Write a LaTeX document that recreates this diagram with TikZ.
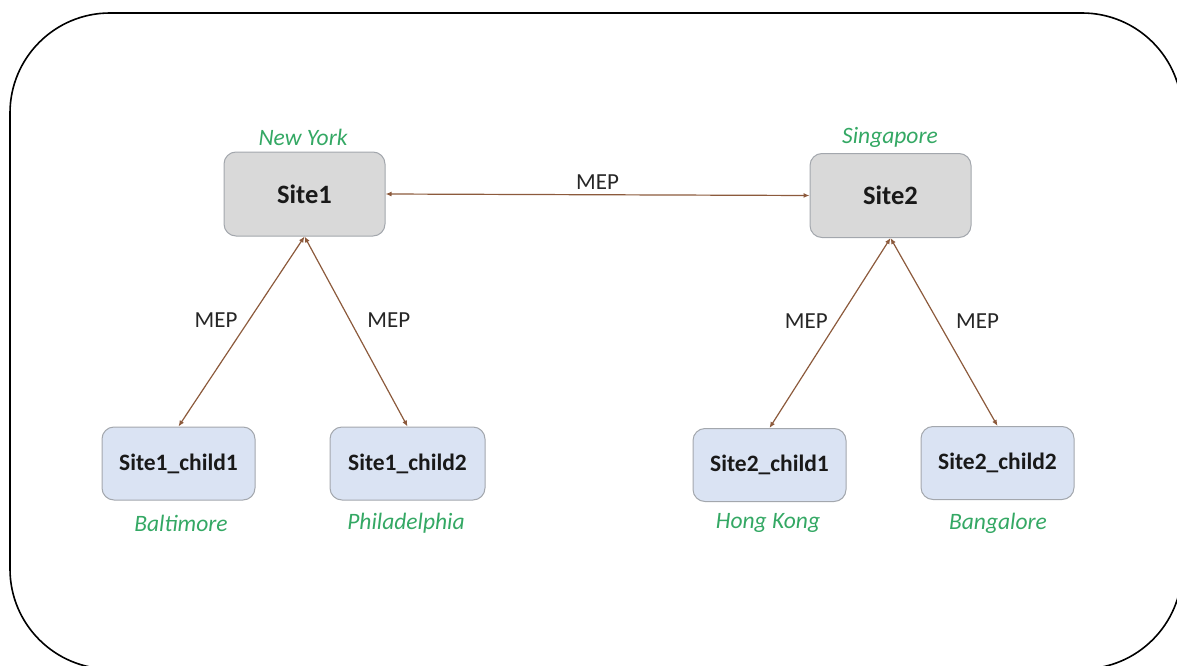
\documentclass[tikz,border=0pt]{standalone}
\usepackage{fontspec}
\setmainfont{Carlito}
\usetikzlibrary{arrows.meta}
\definecolor{siteg}{HTML}{D9D9D9}
\definecolor{childb}{HTML}{DAE3F3}
\definecolor{boxline}{HTML}{A3A7AD}
\definecolor{placeg}{RGB}{52,168,100}
\definecolor{linkb}{RGB}{140,90,60}
\tikzset{
  x=1pt, y=-1pt,
  sitebox/.style={rectangle, rounded corners=12pt, fill=siteg, draw=boxline, line width=1pt,
    minimum width=161pt, minimum height=84pt, inner sep=0pt, font=\fontsize{26.5}{30}\selectfont\bfseries, text=black!90},
  childbox/.style={sitebox, fill=childb, minimum width=153pt, minimum height=73pt, font=\fontsize{23.5}{28}\selectfont\bfseries},
  place/.style={font=\fontsize{23.5}{28}\selectfont\itshape, text=placeg, inner sep=0pt},
  meplbl/.style={font=\fontsize{23}{27}\selectfont, text=black!85, inner sep=0pt},
  link/.style={draw=linkb, line width=1.2pt, {Latex[length=6pt,width=5pt]}-{Latex[length=6pt,width=5pt]}},
}
\begin{document}
\begin{tikzpicture}
\useasboundingbox (0,0) rectangle (1177,666);
\begin{scope}
\clip (0,0) rectangle (1177,666);
\draw[line width=1.6pt, rounded corners=100pt] (10,13) rectangle (1182,669);
\end{scope}

\node[sitebox] (s1) at (304.5,194) {Site1};
\node[sitebox] (s2) at (890.5,195.5) {Site2};
\node[childbox] (c11) at (178.5,463.5) {Site1\_child1};
\node[childbox, minimum width=155pt] (c12) at (407.5,463.5) {Site1\_child2};
\node[childbox] (c21) at (769.5,465) {Site2\_child1};
\node[childbox] (c22) at (997.5,463) {Site2\_child2};

\node[place] (ny) at (303,137) {New York};
\node[place] (sg) at (890,137) {Singapore};
\node[place] (bt) at (181,523) {Baltimore};
\node[place] (ph) at (406,523) {Philadelphia};
\node[place] (hk) at (768,523) {Hong Kong};
\node[place] (bg) at (998,523) {Bangalore};

\draw[link] (s1.east) -- node[meplbl, above=5pt] (m0) {MEP} (s2.west);
\draw[link] (s1.south) -- node[meplbl, pos=0.44, left=11pt] (m1) {MEP} (c11.north);
\draw[link] (s1.south) -- node[meplbl, pos=0.44, right=17pt] (m2) {MEP} (c12.north);
\draw[link] (s2.south) -- node[meplbl, pos=0.44, left=9pt] (m3) {MEP} (c21.north);
\draw[link] (s2.south) -- node[meplbl, pos=0.44, right=18pt] (m4) {MEP} (c22.north);
\end{tikzpicture}
\end{document}
